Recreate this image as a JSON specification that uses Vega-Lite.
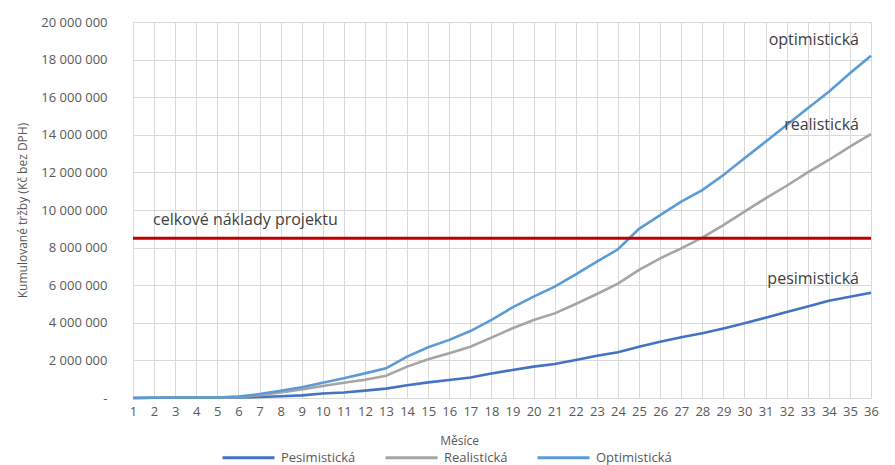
{
  "$schema": "https://vega.github.io/schema/vega-lite/v6.json",
  "width": 738,
  "height": 376,
  "autosize": {"type": "none"},
  "padding": {"left": 133, "top": 22, "right": 24, "bottom": 67},
  "background": "white",
  "config": {
    "font": "Open Sans",
    "view": {"stroke": null},
    "locale": {"number": {"decimal": ",", "thousands": " ", "grouping": [3], "currency": ["", " Kč"]}},
    "axis": {
      "labelFontSize": 13, "labelColor": "#595959", "labelOverlap": false, "labelFlush": false, "labelBound": false,
      "titleFontSize": 12, "titleFontWeight": "normal", "titleColor": "#595959",
      "ticks": false, "domain": false,
      "grid": true, "gridColor": "#d9d9d9", "gridWidth": 1
    },
    "axisX": {"labelPadding": 7, "titleX": 326, "titleY": 42, "titleBaseline": "middle", "titleAnchor": "start", "titleAlign": "center"},
    "axisY": {"labelPadding": 26, "titleX": -111, "titleBaseline": "middle"}
  },
  "datasets": {
    "series": [
      {"m": 1, "s": "Pesimistická", "v": 0},
      {"m": 2, "s": "Pesimistická", "v": 10000},
      {"m": 3, "s": "Pesimistická", "v": 30000},
      {"m": 4, "s": "Pesimistická", "v": 30000},
      {"m": 5, "s": "Pesimistická", "v": 30000},
      {"m": 6, "s": "Pesimistická", "v": 30000},
      {"m": 7, "s": "Pesimistická", "v": 50000},
      {"m": 8, "s": "Pesimistická", "v": 90000},
      {"m": 9, "s": "Pesimistická", "v": 140000},
      {"m": 10, "s": "Pesimistická", "v": 240000},
      {"m": 11, "s": "Pesimistická", "v": 290000},
      {"m": 12, "s": "Pesimistická", "v": 390000},
      {"m": 13, "s": "Pesimistická", "v": 500000},
      {"m": 14, "s": "Pesimistická", "v": 680000},
      {"m": 15, "s": "Pesimistická", "v": 830000},
      {"m": 16, "s": "Pesimistická", "v": 960000},
      {"m": 17, "s": "Pesimistická", "v": 1090000},
      {"m": 18, "s": "Pesimistická", "v": 1300000},
      {"m": 19, "s": "Pesimistická", "v": 1490000},
      {"m": 20, "s": "Pesimistická", "v": 1670000},
      {"m": 21, "s": "Pesimistická", "v": 1810000},
      {"m": 22, "s": "Pesimistická", "v": 2020000},
      {"m": 23, "s": "Pesimistická", "v": 2250000},
      {"m": 24, "s": "Pesimistická", "v": 2430000},
      {"m": 25, "s": "Pesimistická", "v": 2730000},
      {"m": 26, "s": "Pesimistická", "v": 2990000},
      {"m": 27, "s": "Pesimistická", "v": 3230000},
      {"m": 28, "s": "Pesimistická", "v": 3440000},
      {"m": 29, "s": "Pesimistická", "v": 3700000},
      {"m": 30, "s": "Pesimistická", "v": 3970000},
      {"m": 31, "s": "Pesimistická", "v": 4270000},
      {"m": 32, "s": "Pesimistická", "v": 4570000},
      {"m": 33, "s": "Pesimistická", "v": 4870000},
      {"m": 34, "s": "Pesimistická", "v": 5170000},
      {"m": 35, "s": "Pesimistická", "v": 5390000},
      {"m": 36, "s": "Pesimistická", "v": 5600000},
      {"m": 1, "s": "Realistická", "v": 0},
      {"m": 2, "s": "Realistická", "v": 10000},
      {"m": 3, "s": "Realistická", "v": 30000},
      {"m": 4, "s": "Realistická", "v": 30000},
      {"m": 5, "s": "Realistická", "v": 30000},
      {"m": 6, "s": "Realistická", "v": 60000},
      {"m": 7, "s": "Realistická", "v": 150000},
      {"m": 8, "s": "Realistická", "v": 300000},
      {"m": 9, "s": "Realistická", "v": 460000},
      {"m": 10, "s": "Realistická", "v": 640000},
      {"m": 11, "s": "Realistická", "v": 810000},
      {"m": 12, "s": "Realistická", "v": 970000},
      {"m": 13, "s": "Realistická", "v": 1180000},
      {"m": 14, "s": "Realistická", "v": 1670000},
      {"m": 15, "s": "Realistická", "v": 2060000},
      {"m": 16, "s": "Realistická", "v": 2380000},
      {"m": 17, "s": "Realistická", "v": 2730000},
      {"m": 18, "s": "Realistická", "v": 3210000},
      {"m": 19, "s": "Realistická", "v": 3710000},
      {"m": 20, "s": "Realistická", "v": 4150000},
      {"m": 21, "s": "Realistická", "v": 4500000},
      {"m": 22, "s": "Realistická", "v": 5000000},
      {"m": 23, "s": "Realistická", "v": 5530000},
      {"m": 24, "s": "Realistická", "v": 6080000},
      {"m": 25, "s": "Realistická", "v": 6810000},
      {"m": 26, "s": "Realistická", "v": 7430000},
      {"m": 27, "s": "Realistická", "v": 7960000},
      {"m": 28, "s": "Realistická", "v": 8530000},
      {"m": 29, "s": "Realistická", "v": 9200000},
      {"m": 30, "s": "Realistická", "v": 9910000},
      {"m": 31, "s": "Realistická", "v": 10620000},
      {"m": 32, "s": "Realistická", "v": 11290000},
      {"m": 33, "s": "Realistická", "v": 12000000},
      {"m": 34, "s": "Realistická", "v": 12660000},
      {"m": 35, "s": "Realistická", "v": 13370000},
      {"m": 36, "s": "Realistická", "v": 14030000},
      {"m": 1, "s": "Optimistická", "v": 0},
      {"m": 2, "s": "Optimistická", "v": 10000},
      {"m": 3, "s": "Optimistická", "v": 30000},
      {"m": 4, "s": "Optimistická", "v": 30000},
      {"m": 5, "s": "Optimistická", "v": 30000},
      {"m": 6, "s": "Optimistická", "v": 80000},
      {"m": 7, "s": "Optimistická", "v": 210000},
      {"m": 8, "s": "Optimistická", "v": 390000},
      {"m": 9, "s": "Optimistická", "v": 570000},
      {"m": 10, "s": "Optimistická", "v": 810000},
      {"m": 11, "s": "Optimistická", "v": 1050000},
      {"m": 12, "s": "Optimistická", "v": 1310000},
      {"m": 13, "s": "Optimistická", "v": 1580000},
      {"m": 14, "s": "Optimistická", "v": 2200000},
      {"m": 15, "s": "Optimistická", "v": 2700000},
      {"m": 16, "s": "Optimistická", "v": 3090000},
      {"m": 17, "s": "Optimistická", "v": 3560000},
      {"m": 18, "s": "Optimistická", "v": 4150000},
      {"m": 19, "s": "Optimistická", "v": 4820000},
      {"m": 20, "s": "Optimistická", "v": 5390000},
      {"m": 21, "s": "Optimistická", "v": 5920000},
      {"m": 22, "s": "Optimistická", "v": 6580000},
      {"m": 23, "s": "Optimistická", "v": 7250000},
      {"m": 24, "s": "Optimistická", "v": 7910000},
      {"m": 25, "s": "Optimistická", "v": 9000000},
      {"m": 26, "s": "Optimistická", "v": 9730000},
      {"m": 27, "s": "Optimistická", "v": 10440000},
      {"m": 28, "s": "Optimistická", "v": 11060000},
      {"m": 29, "s": "Optimistická", "v": 11860000},
      {"m": 30, "s": "Optimistická", "v": 12750000},
      {"m": 31, "s": "Optimistická", "v": 13630000},
      {"m": 32, "s": "Optimistická", "v": 14520000},
      {"m": 33, "s": "Optimistická", "v": 15410000},
      {"m": 34, "s": "Optimistická", "v": 16290000},
      {"m": 35, "s": "Optimistická", "v": 17270000},
      {"m": 36, "s": "Optimistická", "v": 18210000}
    ],
    "labels": [
      {"m": 1.95, "v": 9470000, "t": "celkové náklady projektu", "a": "left"},
      {"m": 35.43, "v": 19040000, "t": "optimistická", "a": "right"},
      {"m": 35.43, "v": 14520000, "t": "realistická", "a": "right"},
      {"m": 35.43, "v": 6330000, "t": "pesimistická", "a": "right"}
    ],
    "costs": [
      {"v": 8500000}
    ]
  },
  "encoding": {
    "x": {
      "field": "m", "type": "quantitative",
      "scale": {"domain": [1, 36], "nice": false, "zero": false},
      "axis": {
        "values": [1,2,3,4,5,6,7,8,9,10,11,12,13,14,15,16,17,18,19,20,21,22,23,24,25,26,27,28,29,30,31,32,33,34,35,36],
        "title": "Měsíce"
      }
    },
    "y": {
      "field": "v", "type": "quantitative",
      "scale": {"domain": [0, 20000000], "nice": false},
      "axis": {
        "values": [0, 2000000, 4000000, 6000000, 8000000, 10000000, 12000000, 14000000, 16000000, 18000000, 20000000],
        "labelExpr": "datum.value == 0 ? '-\u00a0\u00a0\u00a0\u00a0' : format(datum.value, ',d')",
        "title": "Kumulované tržby (Kč bez DPH)"
      }
    }
  },
  "layer": [
    {
      "data": {"name": "series"},
      "mark": {"type": "line", "strokeWidth": 2.6},
      "encoding": {
        "color": {
          "field": "s", "type": "nominal",
          "scale": {"domain": ["Pesimistická", "Realistická", "Optimistická"], "range": ["#4472C4", "#A5A5A5", "#5B9BD5"]},
          "legend": {
            "title": null, "orient": "none", "direction": "horizontal",
            "legendX": 88, "legendY": 408,
            "symbolType": "stroke", "symbolSize": 2704, "symbolStrokeWidth": 3,
            "labelFontSize": 13, "labelColor": "#595959", "labelOffset": 5,
            "columnPadding": 23
          }
        }
      }
    },
    {
      "data": {"name": "costs"},
      "mark": {"type": "rule", "color": "#C00000", "strokeWidth": 3},
      "encoding": {"x": {"value": 0}, "x2": {"value": 738}}
    },
    {
      "data": {"name": "labels"},
      "transform": [{"filter": "datum.a == 'left'"}],
      "mark": {"type": "text", "fontSize": 16, "color": "#404040", "baseline": "middle", "align": "left"},
      "encoding": {"text": {"field": "t"}}
    },
    {
      "data": {"name": "labels"},
      "transform": [{"filter": "datum.a == 'right'"}],
      "mark": {"type": "text", "fontSize": 16, "color": "#404040", "baseline": "middle", "align": "right"},
      "encoding": {"text": {"field": "t"}}
    }
  ]
}
